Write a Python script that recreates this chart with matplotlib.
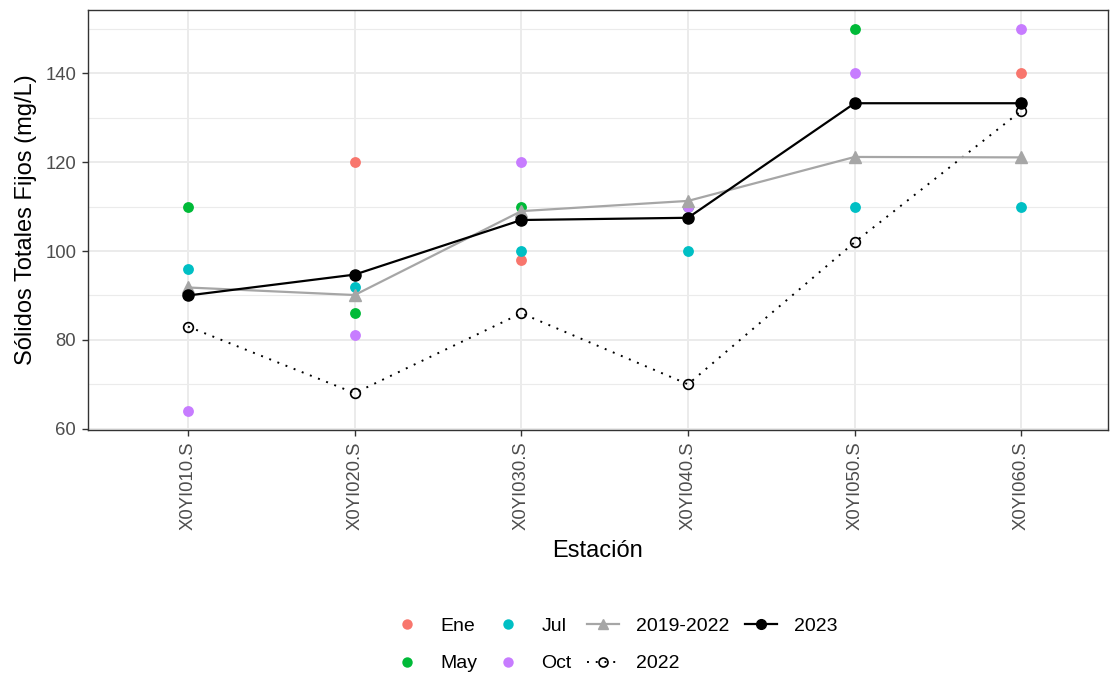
import numpy as np
import matplotlib.pyplot as plt
from matplotlib.lines import Line2D

plt.rcParams['font.family'] = ['Liberation Sans', 'DejaVu Sans']

# Stations and monthly samples (mg/L)
estaciones = ['X0YI010.S', 'X0YI020.S', 'X0YI030.S', 'X0YI040.S', 'X0YI050.S', 'X0YI060.S']
ene = [np.nan, 120, 98, np.nan, np.nan, 140]
may = [110, 86, 110, 110, 150, np.nan]
jul = [96, 92, 100, 100, 110, 110]
oct_ = [64, 81, 120, 110, 140, 150]

# Annual means
prom_2019_2022 = [91.8, 90.1, 109.0, 111.3, 121.2, 121.1]
prom_2022 = [83, 68, 86, 70, 102, 131.6]
prom_2023 = [90.0, 94.7, 107.0, 107.5, 133.3, 133.3]

meses = [('Ene', ene, '#F8766D'), ('May', may, '#00BA38'),
         ('Jul', jul, '#00BFC4'), ('Oct', oct_, '#C77CFF')]

fig = plt.figure(figsize=(11.1, 6.75), dpi=100)
W, H = 1110, 675
ax = fig.add_axes([88 / W, 1 - 430 / H, (1108 - 88) / W, (430 - 10) / H])

x = np.arange(1, len(estaciones) + 1)

for nombre, vals, col in meses:
    ax.plot(x, vals, 'o', color=col, markersize=7.8, markeredgewidth=0, zorder=3)

ax.plot(x, prom_2022, linestyle=(0, (1, 3.5)), color='black', lw=1.4,
        marker='o', markersize=7, markerfacecolor='none', markeredgecolor='black',
        markeredgewidth=1.2, zorder=4)
ax.plot(x, prom_2019_2022, '-', color='#A6A6A6', lw=1.6, marker='^',
        markersize=8.5, zorder=5)
ax.plot(x, prom_2023, '-', color='black', lw=1.6, marker='o', markersize=8,
        zorder=6)

ax.set_xlim(0.4, 6.52)
ax.set_ylim(59.7, 154.3)
ax.set_xticks(x)
ax.set_xticklabels(estaciones, rotation=90)
ax.set_yticks([60, 80, 100, 120, 140])
ax.set_yticks([70, 90, 110, 130, 150], minor=True)

ax.grid(True, which='major', color='#EBEBEB', lw=1.4, zorder=0)
ax.grid(True, which='minor', axis='y', color='#EBEBEB', lw=0.8, zorder=0)
ax.set_axisbelow(True)
for s in ax.spines.values():
    s.set_color('#333333')
    s.set_linewidth(1.0)
ax.tick_params(which='major', length=4, color='#333333', labelcolor='#4D4D4D',
               labelsize=13.3, width=1.0, pad=4.5)
ax.tick_params(which='minor', length=0)

ax.set_xlabel('Estación', fontsize=17, labelpad=7)
ax.set_ylabel('Sólidos Totales Fijos (mg/L)', fontsize=17, labelpad=6)

# Legend: month points plus the three average lines
handles = [
    Line2D([], [], marker='o', ls='none', color='#F8766D', markersize=7.5, markeredgewidth=0),
    Line2D([], [], marker='o', ls='none', color='#00BA38', markersize=7.5, markeredgewidth=0),
    Line2D([], [], marker='o', ls='none', color='#00BFC4', markersize=7.5, markeredgewidth=0),
    Line2D([], [], marker='o', ls='none', color='#C77CFF', markersize=7.5, markeredgewidth=0),
    Line2D([], [], color='#A6A6A6', lw=1.6, marker='^', markersize=7.5),
    Line2D([], [], color='black', lw=1.4, linestyle=(0, (1, 3.5)), marker='o',
           markersize=6.5, markerfacecolor='none', markeredgewidth=1.2),
    Line2D([], [], color='black', lw=1.6, marker='o', markersize=7),
]
labels = ['Ene', 'May', 'Jul', 'Oct', '2019-2022', '2022', '2023']
fig.legend(handles, labels, ncol=4, loc='center',
           bbox_to_anchor=(614 / W, 1 - 645 / H), frameon=False, fontsize=14,
           handlelength=1.65, columnspacing=0.78, handletextpad=0.88,
           labelspacing=1.0)

fig.savefig('out.png', dpi=100)
